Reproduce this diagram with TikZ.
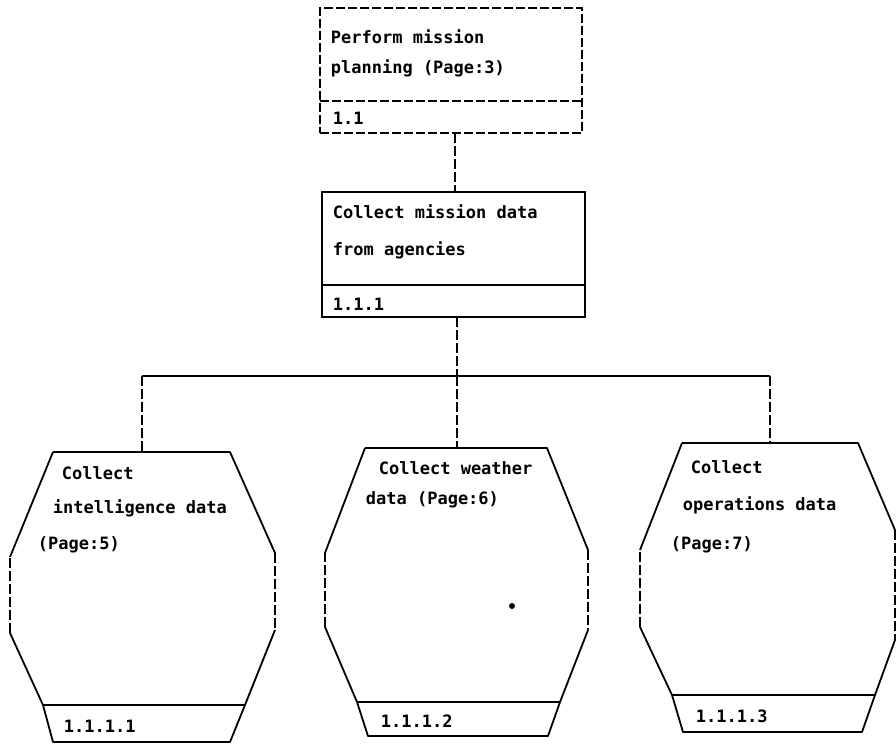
\documentclass[tikz,border=0pt]{standalone}
\usepackage{fontspec}
\setmainfont{DejaVu Sans Mono}
\begin{document}
\begin{tikzpicture}[x=1pt,y=-1pt,
  line width=1.8pt,
  txt/.style={anchor=west,inner sep=0pt,font=\fontsize{17}{18}\selectfont\bfseries},
  boxframe/.style={draw,rectangle,inner sep=0pt,line width=1.8pt},
  dashedline/.style={dash pattern=on 9pt off 3pt},
  vdash/.style={dash pattern=on 10pt off 3pt},
  bus/.style={line width=2pt}]
\useasboundingbox (0,0) rectangle (896,745);

% top box (dashed)
\node[boxframe,dashedline,minimum width=262pt,minimum height=125pt] (top) at (451,70.5) {};
\coordinate (topdivL) at (320,101);
\coordinate (topdivR) at (582,101);
\draw[dashedline] (topdivL) -- (topdivR);
\node[txt] (t1) at (330,37) {Perform mission};
\node[txt] (t2) at (330,68) {planning (Page:3)};
\node[txt] (t3) at (332,118) {1.1};

% second box
\node[boxframe,minimum width=263pt,minimum height=125pt] (mid) at (453.5,254.5) {};
\coordinate (middivL) at (322,285);
\coordinate (middivR) at (585,285);
\draw (middivL) -- (middivR);
\node[txt] (m1) at (332,212) {Collect mission data};
\node[txt] (m2) at (332,250) {from agencies};
\node[txt] (m3) at (332,304) {1.1.1};

% connector top -> mid
\coordinate (c1a) at (455,133);
\coordinate (c1b) at (455,192);
\draw[vdash] (c1a) -- (c1b);

% bus
\coordinate (busC) at (457,376);
\coordinate (busL) at (142,376);
\coordinate (busR) at (770,376);
\coordinate (midS) at (457,317);
\draw[vdash] (midS) -- (busC);
\draw[bus] (busL) -- (busR);

% octagon tops
\coordinate (o1top) at (142,452);
\coordinate (o2top) at (457,448);
\coordinate (o3top) at (770,443);
\draw[vdash] (busL) -- (o1top);
\draw[vdash] (busC) -- (o2top);
\draw[vdash] (busR) -- (o3top);

% octagon 1
\draw[line join=round] (53,452) -- (230,452) -- (275,553);
\draw[vdash] (275,553) -- (275,630);
\draw[line join=round] (275,630) -- (245,705) -- (230,742) -- (53,742) -- (43,705) -- (10,633);
\draw[vdash] (10,633) -- (10,557);
\draw (10,557) -- (53,452);
\draw (43,705) -- (245,705);
\node[txt] (a1) at (61,473) {Collect};
\node[txt] (a2) at (52,508) {intelligence data};
\node[txt] (a3) at (37,545) {(Page:5)};
\node[txt] (a4) at (63,726) {1.1.1.1};

% octagon 2
\draw[line join=round] (365,448) -- (547,448) -- (588,550);
\draw[vdash] (588,550) -- (588,630);
\draw[line join=round] (588,630) -- (560,702) -- (548,736) -- (368,736) -- (357,702) -- (325,627);
\draw[vdash] (325,627) -- (325,553);
\draw (325,553) -- (365,448);
\draw (357,702) -- (560,702);
\node[txt] (b1) at (378,468) {Collect weather};
\node[txt] (b2) at (365,500) {data (Page:6)};
\node[txt] (b3) at (380,721) {1.1.1.2};
\fill (512,606) circle (3pt);

% octagon 3
\draw[line join=round] (682,443) -- (858,443) -- (895,530);
\draw[vdash] (895,530) -- (895,640);
\draw[line join=round] (895,640) -- (875,695) -- (862,732) -- (683,732) -- (672,695) -- (640,627);
\draw[vdash] (640,627) -- (640,550);
\draw (640,550) -- (682,443);
\draw (672,695) -- (875,695);
\node[txt] (d1) at (690,467) {Collect};
\node[txt] (d2) at (682,505) {operations data};
\node[txt] (d3) at (670,545) {(Page:7)};
\node[txt] (d4) at (695,716) {1.1.1.3};
\end{tikzpicture}
\end{document}
